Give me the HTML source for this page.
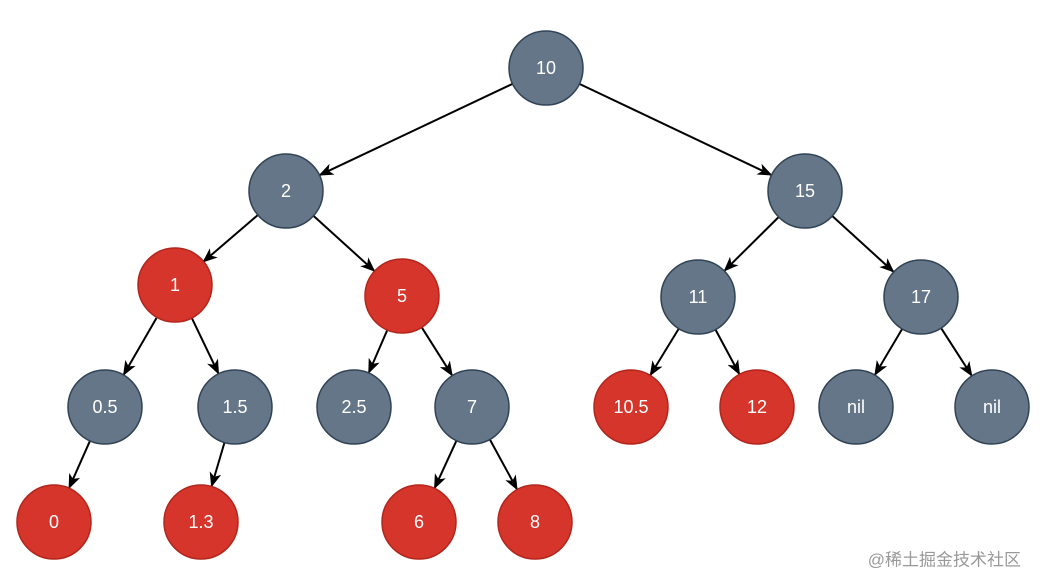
<!DOCTYPE html>
<html><head><meta charset="utf-8"><style>
html,body{margin:0;padding:0;background:#fff;}
svg{display:block;}
text{font-family:"Liberation Sans",Helvetica,Arial,sans-serif;font-size:18px;fill:#fff;text-anchor:middle;dominant-baseline:central;}
.g{fill:#647687;stroke:#314354;stroke-width:1.5;}
.r{fill:#d5352a;stroke:#b2261c;stroke-width:1.5;}
line{stroke:#000;stroke-width:2;}
</style></head><body>
<svg width="1042" height="588" viewBox="0 0 1042 588" xmlns="http://www.w3.org/2000/svg">
<defs><marker id="a" viewBox="0 0 15 12" refX="14" refY="6" markerWidth="15" markerHeight="12" markerUnits="userSpaceOnUse" orient="auto"><path d="M0,0 L15,6 L0,12 L4,6 Z" fill="#000"/></marker></defs>
<line x1="512.6" y1="83.8" x2="319.4" y2="175.2" marker-end="url(#a)"/>
<line x1="579.4" y1="83.9" x2="771.6" y2="175.1" marker-end="url(#a)"/>
<line x1="257.9" y1="215" x2="203.1" y2="262" marker-end="url(#a)"/>
<line x1="313.4" y1="215.8" x2="374.6" y2="271.2" marker-end="url(#a)"/>
<line x1="778.7" y1="217" x2="724.3" y2="270.9" marker-end="url(#a)"/>
<line x1="832.3" y1="216" x2="893.7" y2="272" marker-end="url(#a)"/>
<line x1="156.5" y1="318" x2="123.5" y2="375" marker-end="url(#a)"/>
<line x1="191.4" y1="317.2" x2="218.6" y2="373.8" marker-end="url(#a)"/>
<line x1="387.3" y1="330" x2="368.7" y2="373" marker-end="url(#a)"/>
<line x1="421.7" y1="327.3" x2="452.3" y2="375.7" marker-end="url(#a)"/>
<line x1="678.8" y1="328.6" x2="650.2" y2="375.4" marker-end="url(#a)"/>
<line x1="715.5" y1="329.6" x2="739.5" y2="374.4" marker-end="url(#a)"/>
<line x1="902.2" y1="328.9" x2="874.8" y2="375.1" marker-end="url(#a)"/>
<line x1="941.1" y1="328.1" x2="971.9" y2="375.9" marker-end="url(#a)"/>
<line x1="90" y1="440.8" x2="69" y2="488.2" marker-end="url(#a)"/>
<line x1="224.5" y1="442.5" x2="211.5" y2="486.5" marker-end="url(#a)"/>
<line x1="456.5" y1="440.6" x2="434.5" y2="488.4" marker-end="url(#a)"/>
<line x1="489.8" y1="439.4" x2="517.2" y2="489.6" marker-end="url(#a)"/>
<circle class="g" cx="546" cy="68" r="37"/><text x="546" y="68">10</text>
<circle class="g" cx="286" cy="191" r="37"/><text x="286" y="191">2</text>
<circle class="g" cx="805" cy="191" r="37"/><text x="805" y="191">15</text>
<circle class="r" cx="175" cy="285" r="37"/><text x="175" y="285">1</text>
<circle class="r" cx="402" cy="296" r="37"/><text x="402" y="296">5</text>
<circle class="g" cx="698" cy="297" r="37"/><text x="698" y="297">11</text>
<circle class="g" cx="921" cy="297" r="37"/><text x="921" y="297">17</text>
<circle class="g" cx="105" cy="407" r="37"/><text x="105" y="407">0.5</text>
<circle class="g" cx="235" cy="407" r="37"/><text x="235" y="407">1.5</text>
<circle class="g" cx="354" cy="407" r="37"/><text x="354" y="407">2.5</text>
<circle class="g" cx="472" cy="407" r="37"/><text x="472" y="407">7</text>
<circle class="r" cx="631" cy="407" r="37"/><text x="631" y="407">10.5</text>
<circle class="r" cx="757" cy="407" r="37"/><text x="757" y="407">12</text>
<circle class="g" cx="856" cy="407" r="37"/><text x="856" y="407">nil</text>
<circle class="g" cx="992" cy="407" r="37"/><text x="992" y="407">nil</text>
<circle class="r" cx="54" cy="522" r="37"/><text x="54" y="522">0</text>
<circle class="r" cx="201" cy="522" r="37"/><text x="201" y="522">1.3</text>
<circle class="r" cx="419" cy="522" r="37"/><text x="419" y="522">6</text>
<circle class="r" cx="535" cy="522" r="37"/><text x="535" y="522">8</text>
<text x="1021" y="560" style="fill:#999;font-size:17px;text-anchor:end;font-family:'Liberation Sans','Noto Sans CJK SC',sans-serif;">@稀土掘金技术社区</text>
</svg>
</body></html>
